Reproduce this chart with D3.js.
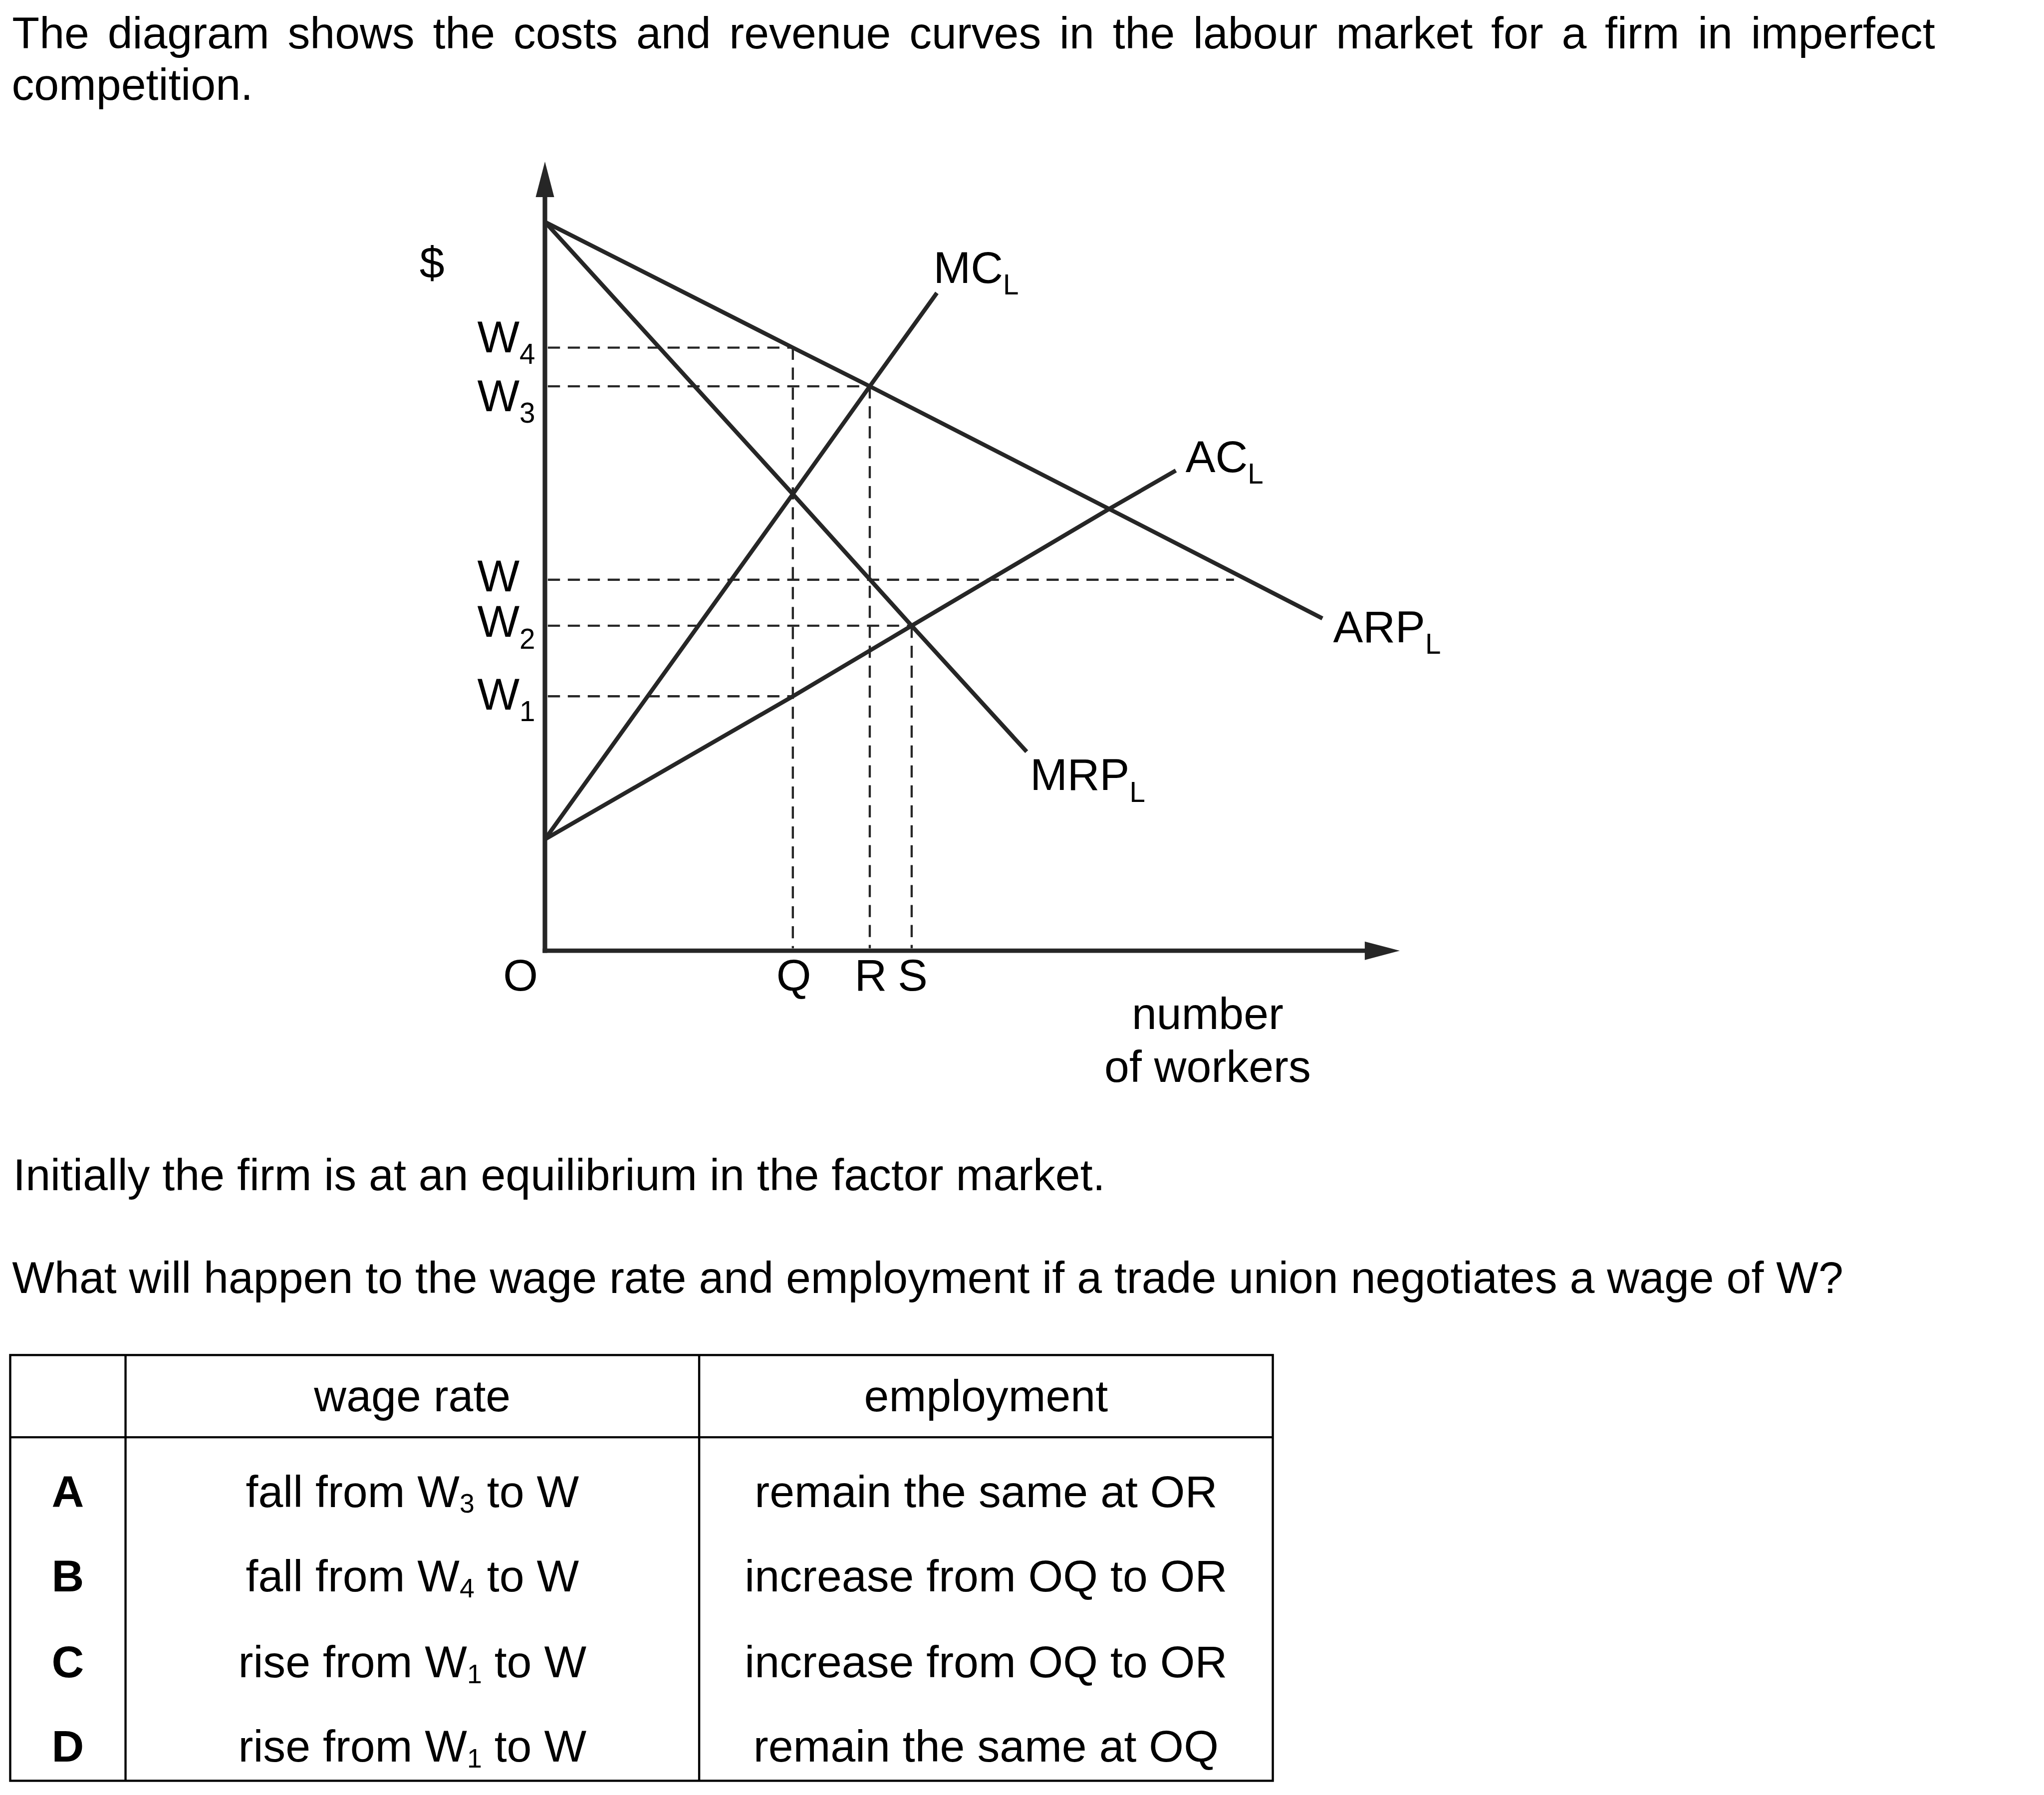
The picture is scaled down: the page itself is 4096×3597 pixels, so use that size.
<!DOCTYPE html>
<html><head><meta charset="utf-8">
<script src="https://cdn.jsdelivr.net/npm/d3@7"></script>
<style>html,body{margin:0;padding:0;background:#fff;} svg{display:block;}</style>
</head><body>
<script>
// ---------------- data ----------------
const titleLines = ["The diagram shows the costs and revenue curves in the labour market for a firm in imperfect", "competition."];
const questionLines = ["Initially the firm is at an equilibrium in the factor market.",
  "What will happen to the wage rate and employment if a trade union negotiates a wage of W?"];

const curveNames = ["MC", "AC", "ARP", "MRP"];
const mcPoints  = [[0, 14.12], [29, 57.86], [38, 71.52], [45.85, 83.35]];
const acPoints  = [[0, 14.12], [29, 32.24], [42.9, 41.18], [66, 55.98], [73.8, 60.85]];
const arpPoints = [[0, 92.35], [29, 76.42], [38, 71.52], [66, 55.98], [90.95, 42.11]];
const mrpPoints = [[0, 92.35], [29, 57.86], [42.9, 41.18], [56.35, 25.22]];

const wageSubs = ["4", "3", "", "2", "1"];           // W4, W3, W, W2, W1
const wageValues = [76.42, 71.52, 47.01, 41.18, 32.24];
const wageGuideEnds = [29.0, 38.0, 80.6, 42.9, 29.0];

const qtyNames = ["Q", "R", "S"];
const qtyValues = [29.0, 38.0, 42.9];
const qtyGuideTops = [76.42, 71.52, 41.18];

const xAxisTitle = ["number", "of workers"];
const yAxisTitle = "$";

const tableHeaders = ["", "wage rate", "employment"];
const optionKeys = ["A", "B", "C", "D"];
const wageVerbs = ["fall from W", "fall from W", "rise from W", "rise from W"];
const wageFromSubs = ["3", "4", "1", "1"];
const employmentAnswers = ["remain the same at OR", "increase from OQ to OR", "increase from OQ to OR", "remain the same at OQ"];

// ---------------- layout ----------------
const FONT = "'Liberation Sans', Arial, Helvetica, sans-serif";
const FS = 92, SUB = 58, TSUB = 55;
const LINE = "#262626";

const svg = d3.select("body").append("svg").attr("width", 4096).attr("height", 3597)
  .style("background", "#fff");
const g = svg.append("g").attr("transform", "scale(0.975)")
  .attr("font-family", FONT).attr("fill", "#000");

// title, justified first line
const t1 = g.append("text").attr("x", 25).attr("y", 99).attr("font-size", FS).text(titleLines[0]);
const natural = t1.node().getComputedTextLength();
const gaps = titleLines[0].split(" ").length - 1;
t1.attr("word-spacing", ((3977 - 25) - natural) / gaps);
g.append("text").attr("x", 24).attr("y", 205).attr("font-size", FS).text(titleLines[1]);

// questions
g.append("text").attr("x", 27).attr("y", 2446).attr("font-size", FS).text(questionLines[0]);
g.append("text").attr("x", 25).attr("y", 2657).attr("font-size", FS).text(questionLines[1]);

// ---------------- chart ----------------
const x = d3.scaleLinear().domain([0, 100]).range([1120, 2877]);
const y = d3.scaleLinear().domain([0, 100]).range([1954, 332]);
const chart = g.append("g");

// dashed guides
const dash = "25,16";
wageValues.forEach((v, i) => {
  chart.append("line").attr("x1", x(0) + 6).attr("x2", x(wageGuideEnds[i]))
    .attr("y1", y(v)).attr("y2", y(v))
    .attr("stroke", LINE).attr("stroke-width", 4.5).attr("stroke-dasharray", dash);
});
qtyValues.forEach((v, i) => {
  chart.append("line").attr("x1", x(v)).attr("x2", x(v))
    .attr("y1", y(qtyGuideTops[i])).attr("y2", y(0) - 5)
    .attr("stroke", LINE).attr("stroke-width", 4.5).attr("stroke-dasharray", dash);
});

// curves
const line = d3.line().x(d => x(d[0])).y(d => y(d[1]));
[mcPoints, acPoints, arpPoints, mrpPoints].forEach(pts => {
  chart.append("path").attr("d", line(pts)).attr("fill", "none")
    .attr("stroke", LINE).attr("stroke-width", 8.5).attr("stroke-linejoin", "round");
});

// axes with arrows
const ax0 = x(0), ay0 = y(0), yTip = y(100), xTip = x(100);
chart.append("line").attr("x1", ax0).attr("x2", ax0).attr("y1", ay0 + 4.5).attr("y2", yTip + 70)
  .attr("stroke", LINE).attr("stroke-width", 9.5);
chart.append("path").attr("d", `M${ax0},${yTip} L${ax0 - 19},${yTip + 73} L${ax0 + 19},${yTip + 73} Z`).attr("fill", LINE);
chart.append("line").attr("x1", ax0 - 4.75).attr("x2", xTip - 70).attr("y1", ay0).attr("y2", ay0)
  .attr("stroke", LINE).attr("stroke-width", 9);
chart.append("path").attr("d", `M${xTip},${ay0} L${xTip - 72},${ay0 - 19} L${xTip - 72},${ay0 + 19} Z`).attr("fill", LINE);

// helper for subscripted labels
function subLabel(parent, px, py, main, sub, anchor, subSize, subDy) {
  const t = parent.append("text").attr("x", px).attr("y", py).attr("font-size", FS)
    .attr("text-anchor", anchor || "start");
  t.append("tspan").text(main);
  if (sub) t.append("tspan").attr("font-size", subSize).attr("dy", subDy).text(sub);
  return t;
}

// y labels
const wageLabelDy = [9.5, 51, 23.5, 23, 27];
wageValues.forEach((v, i) => {
  subLabel(chart, 981, y(v) + wageLabelDy[i], "W", wageSubs[i], "start", SUB, 24);
});
chart.append("text").attr("x", 888).attr("y", 571).attr("font-size", FS).attr("text-anchor", "middle").text(yAxisTitle);

// x labels
chart.append("text").attr("x", 1070).attr("y", 2036).attr("font-size", FS).attr("text-anchor", "middle").text("O");
qtyValues.forEach((v, i) => {
  chart.append("text").attr("x", x(v) + 2).attr("y", 2036).attr("font-size", FS)
    .attr("text-anchor", "middle").text(qtyNames[i]);
});
xAxisTitle.forEach((s, i) => {
  chart.append("text").attr("x", 2482).attr("y", 2115 + i * 109).attr("font-size", FS)
    .attr("text-anchor", "middle").text(s);
});

// curve labels near curve ends
const curveEnds = [mcPoints, acPoints, arpPoints, mrpPoints].map(p => p[p.length - 1]);
const curveLabelOffsets = [[-7, -21], [20, 3], [22, 49], [7, 79]];
curveNames.forEach((n, i) => {
  const e = curveEnds[i];
  subLabel(chart, x(e[0]) + curveLabelOffsets[i][0], y(e[1]) + curveLabelOffsets[i][1], n, "L", "start", SUB, 24);
});

// ---------------- table ----------------
const tb = g.append("g");
const colX = [21, 258, 1437, 2616];
const rowTop = 2785, headBottom = 2954, rowBottom = 3660;
const TS = 4.5;
tb.append("rect").attr("x", colX[0]).attr("y", rowTop).attr("width", colX[3] - colX[0])
  .attr("height", rowBottom - rowTop).attr("fill", "none").attr("stroke", "#000").attr("stroke-width", TS);
[colX[1], colX[2]].forEach(cx => tb.append("line").attr("x1", cx).attr("x2", cx)
  .attr("y1", rowTop).attr("y2", rowBottom).attr("stroke", "#000").attr("stroke-width", TS));
tb.append("line").attr("x1", colX[0]).attr("x2", colX[3]).attr("y1", headBottom).attr("y2", headBottom)
  .attr("stroke", "#000").attr("stroke-width", TS);

const colC = [(colX[0] + colX[1]) / 2, (colX[1] + colX[2]) / 2, (colX[2] + colX[3]) / 2];
tableHeaders.forEach((h, i) => {
  if (h) tb.append("text").attr("x", colC[i]).attr("y", 2901).attr("font-size", FS)
    .attr("text-anchor", "middle").text(h);
});
const rowBase = [3097, 3271, 3447, 3621];
optionKeys.forEach((k, i) => {
  tb.append("text").attr("x", colC[0]).attr("y", rowBase[i]).attr("font-size", FS)
    .attr("font-weight", "bold").attr("text-anchor", "middle").text(k);
  const t = tb.append("text").attr("x", colC[1]).attr("y", rowBase[i]).attr("font-size", FS)
    .attr("text-anchor", "middle");
  t.append("tspan").text(wageVerbs[i]);
  t.append("tspan").attr("font-size", TSUB).attr("dy", 12).text(wageFromSubs[i]);
  t.append("tspan").attr("dy", -12).text(" to W");
  tb.append("text").attr("x", colC[2]).attr("y", rowBase[i]).attr("font-size", FS)
    .attr("text-anchor", "middle").text(employmentAnswers[i]);
});
</script>
</body></html>
